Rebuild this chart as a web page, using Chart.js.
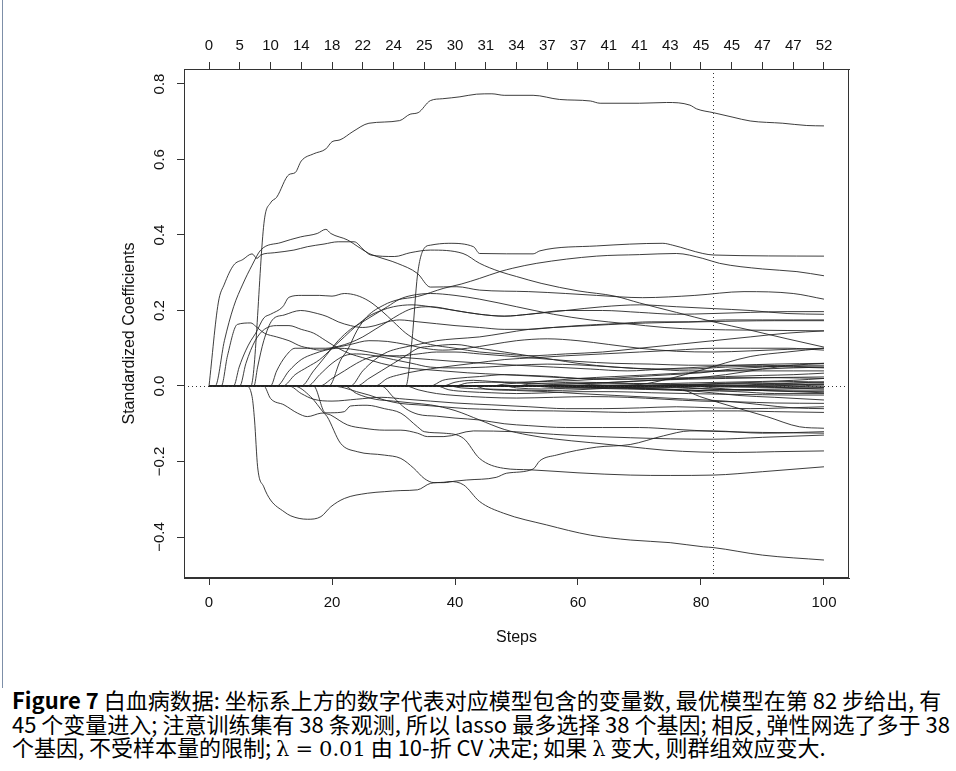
<!DOCTYPE html>
<html><head><meta charset="utf-8">
<script src="https://cdn.jsdelivr.net/npm/chart.js@4.4.0/dist/chart.umd.min.js"></script>
<style>
html,body{margin:0;padding:0;background:#fff;}
#wrap{position:relative;width:956px;height:771px;overflow:hidden;}
#c{position:absolute;left:0;top:0;}
#edge{position:absolute;left:2px;top:0;width:1px;height:688px;background:#7d8fa8;}
#cap{position:absolute;left:12px;top:688px;font-family:"Noto Sans CJK SC",sans-serif;font-size:22px;line-height:23.5px;color:#000;white-space:nowrap;}
#cap b{font-weight:700;}
.m{font-family:"DejaVu Serif","Liberation Serif",serif;font-size:21px;}
.eq{margin:0 6px;}
</style></head>
<body><div id="wrap"><canvas id="c" width="956" height="680"></canvas><div id="edge"></div>
<div id="cap"><b>Figure 7</b> 白血病数据: 坐标系上方的数字代表对应模型包含的变量数, 最优模型在第 82 步给出, 有<br>45 个变量进入; 注意训练集有 38 条观测, 所以 lasso 最多选择 38 个基因; 相反, 弹性网选了多于 38<br>个基因, 不受样本量的限制; <span class="m">λ<span class="eq">=</span>0.01</span> 由 10-折 CV 决定; 如果 <span class="m">λ</span> 变大, 则群组效应变大.</div>
</div>
<script>
// ---- data ----
const xTicks = [0,20,40,60,80,100];
const topTicks = [0,5,10,15,20,25,30,35,40,45,50,55,60,65,70,75,80,85,90,95,100];
const topLabels = ['0','5','10','14','18','22','24','25','30','31','34','37','37','41','41','43','45','45','47','47','52'];
const yTicks = [-0.4,-0.2,0,0.2,0.4,0.6,0.8];
const bestStep = 82;
const xTitle = 'Steps';
const yTitle = 'Standardized Coefficients';

const c01=[[0,0],[6.8,0],[9,0.44],[10,0.485],[11,0.5],[13,0.56],[14,0.565],[15,0.596],[17,0.615],[19,0.628],[20,0.647],[21.3,0.652],[23.4,0.674],[26,0.696],[31,0.703],[32.7,0.72],[34,0.724],[36,0.756],[38,0.761],[40.8,0.766],[43.5,0.773],[46,0.774],[48,0.77],[52.7,0.77],[57,0.759],[62,0.755],[63.6,0.749],[70,0.749],[74.4,0.751],[78.2,0.744],[79.3,0.734],[82,0.724],[85.2,0.712],[88,0.702],[93.3,0.696],[97.2,0.69],[100,0.689]];
const c02=[[0,0],[1.5,0.22],[2.5,0.27],[4,0.32],[5.5,0.335],[7,0.35],[7.8,0.338],[8.4,0.347],[10.6,0.353],[13.8,0.36],[16,0.369],[18.7,0.376],[21,0.382],[23.6,0.382],[25.2,0.36],[26.3,0.347],[30.2,0.343],[32.7,0.353],[36,0.36],[41.3,0.351],[44,0.325],[47.3,0.303],[50,0.29],[54,0.272],[60,0.252],[66,0.238],[70,0.22],[76,0.195],[82,0.17],[88,0.148],[94,0.125],[100,0.103]];
const c03=[[0,0],[1,0],[2.5,0.12],[4,0.21],[5.5,0.27],[7,0.32],[8.4,0.36],[11.7,0.38],[14.9,0.395],[17.6,0.404],[19,0.415],[19.8,0.404],[22.5,0.387],[24.6,0.365],[26,0.351],[27.3,0.343],[30.6,0.325],[33.9,0.298],[36,0.262],[40.3,0.263],[44,0.254],[52,0.25],[58,0.245],[63,0.24],[70.5,0.234],[79,0.24],[87,0.25],[95,0.245],[100,0.23]];
const c04=[[0,0],[2,0],[3,0.08],[4.6,0.163],[6.8,0.167],[7.6,0.158],[9,0.14],[11,0.13],[13,0.12],[15,0.105],[17,0.1],[19,0.1],[21,0.105],[23,0.115],[25,0.13],[27,0.15],[29,0.17],[31,0.19],[33,0.205],[36,0.21],[40,0.2],[44,0.19],[48,0.185],[52,0.19],[58,0.2],[64,0.2],[70,0.195],[76,0.19],[82,0.192],[88,0.195],[94,0.197],[100,0.197]];
const c05=[[0,0],[4,0],[4.9,0.05],[6,0.095],[6.8,0.12],[7.6,0.14],[8.9,0.18],[10,0.19],[12,0.21],[13,0.235],[15,0.24],[18,0.24],[20,0.238],[22,0.245],[24,0.24],[26,0.225],[28,0.2],[30,0.17],[32,0.14],[34,0.12],[36,0.11],[40,0.1],[44,0.09],[48,0.085],[52,0.08],[58,0.085],[64,0.09],[70,0.1],[76,0.11],[82,0.12],[88,0.13],[94,0.14],[100,0.146]];
const c06=[[0,0],[5,0],[6,0.06],[7.5,0.12],[9,0.15],[11,0.16],[13,0.16],[15,0.15],[17,0.14],[19,0.12],[21,0.1],[23,0.085],[25,0.075],[28,0.06],[31,0.05],[34,0.045],[38,0.04],[42,0.035],[48,0.03],[54,0.025],[60,0.02],[68,0.018],[76,0.02],[84,0.022],[92,0.022],[100,0.02]];
const c07=[[0,0],[6,0],[7,-0.028],[7.4,-0.09],[7.9,-0.214],[8.9,-0.267],[10,-0.302],[12.2,-0.333],[13.3,-0.344],[16,-0.353],[18.2,-0.346],[19.8,-0.32],[22,-0.298],[25.8,-0.284],[28.5,-0.28],[31.2,-0.277],[33.9,-0.275],[36,-0.258],[38.2,-0.255],[39.2,-0.253],[41.4,-0.262],[44,-0.306],[47.9,-0.337],[54.9,-0.368],[62,-0.395],[68.5,-0.408],[75,-0.415],[80.4,-0.426],[82,-0.428],[90,-0.448],[100,-0.461]];
const c08=[[0,0],[7.3,0],[7.9,0.05],[8.9,0.12],[10.3,0.175],[12.2,0.188],[14.9,0.2],[17.6,0.192],[19.2,0.184],[21,0.17],[23,0.16],[25,0.155],[27,0.16],[29,0.17],[31,0.175],[34,0.17],[37,0.165],[40,0.16],[44,0.155],[48,0.15],[52,0.15],[56,0.155],[62,0.16],[68,0.165],[74,0.168],[80,0.17],[86,0.172],[92,0.173],[100,0.173]];
const c09=[[0,0],[8.9,0],[10,-0.033],[12.2,-0.05],[14.4,-0.072],[16,-0.081],[18.2,-0.072],[19.8,-0.071],[22,-0.068],[23,-0.053],[25.7,-0.051],[28.5,-0.06],[31.2,-0.072],[33.9,-0.108],[35,-0.121],[38.2,-0.125],[41.4,-0.139],[44,-0.192],[47.9,-0.218],[52.2,-0.222],[60,-0.23],[68.5,-0.236],[75,-0.237],[82,-0.236],[90,-0.227],[100,-0.214]];
const c10=[[0,0],[10,0],[11,0.04],[12.5,0.08],[14,0.1],[16,0.1],[18,0.095],[20,0.1],[23,0.11],[26,0.12],[29,0.118],[32,0.11],[35,0.1],[38,0.095],[42,0.1],[46,0.11],[50,0.12],[55,0.125],[60,0.12],[65,0.11],[70,0.1],[76,0.092],[82,0.09],[88,0.093],[94,0.097],[100,0.1]];
const c11=[[0,0],[11,0],[13,0.04],[15,0.07],[17,0.085],[19,0.095],[21,0.1],[23,0.098],[26,0.09],[29,0.08],[32,0.075],[36,0.07],[40,0.065],[45,0.06],[50,0.055],[56,0.05],[62,0.045],[68,0.04],[74,0.045],[80,0.05],[86,0.055],[92,0.058],[100,0.06]];
const c12=[[0,0],[12,0],[14,0.03],[16,0.05],[18,0.07],[20,0.1],[22,0.13],[24,0.16],[26,0.185],[28,0.2],[30,0.21],[33,0.215],[36,0.21],[40,0.2],[44,0.19],[48,0.185],[52,0.19],[58,0.2],[64,0.21],[70,0.215],[76,0.21],[82,0.205],[88,0.2],[94,0.192],[100,0.19]];
const c13=[[0,0],[13,0],[15,-0.02],[17,-0.035],[20,-0.04],[24,-0.035],[28,-0.03],[32,-0.035],[36,-0.04],[40,-0.045],[46,-0.05],[52,-0.055],[58,-0.06],[64,-0.06],[70,-0.058],[76,-0.055],[82,-0.058],[88,-0.06],[94,-0.058],[100,-0.055]];
const c14=[[0,0],[13.8,0],[16.5,-0.028],[18.7,-0.072],[19.2,-0.081],[21.4,-0.152],[24.1,-0.174],[28.5,-0.183],[31.2,-0.192],[33.3,-0.218],[35,-0.245],[36.6,-0.256],[38.2,-0.256],[40,-0.252],[41.9,-0.249],[46.7,-0.242],[48.4,-0.231],[52.7,-0.22],[53.8,-0.198],[56.5,-0.183],[63,-0.162],[68.5,-0.155],[73.9,-0.132],[78.2,-0.119],[82,-0.119],[90,-0.125],[100,-0.121]];
const c15=[[0,0],[15,0],[17,0.04],[19,0.08],[21,0.12],[23,0.15],[25,0.17],[27,0.19],[29,0.21],[31,0.23],[33,0.24],[36,0.245],[40,0.24],[44,0.23],[50,0.21],[56,0.19],[62,0.175],[68,0.165],[74,0.155],[80,0.15],[88,0.148],[94,0.147],[100,0.146]];
const c16=[[0,0],[16,0],[18,0.03],[20,0.06],[22,0.08],[24,0.085],[27,0.08],[30,0.07],[33,0.06],[36,0.05],[40,0.048],[45,0.05],[50,0.055],[55,0.058],[60,0.056],[66,0.05],[72,0.045],[78,0.045],[84,0.05],[90,0.052],[95,0.05],[100,0.048]];
const c17=[[0,0],[17,0],[18.7,-0.068],[19.8,-0.077],[22.5,-0.103],[25.2,-0.112],[28.5,-0.117],[31.2,-0.117],[33.9,-0.125],[35.5,-0.134],[38.2,-0.134],[43,-0.119],[49.5,-0.121],[56,-0.128],[63,-0.134],[68.5,-0.137],[75,-0.14],[82,-0.141],[90,-0.136],[100,-0.13]];
const c18=[[0,0],[19.5,0],[21.4,0.069],[22.5,0.095],[24.1,0.148],[25.7,0.184],[28.5,0.215],[30.6,0.228],[33.9,0.237],[38.2,0.259],[41,0.27],[44,0.285],[47.3,0.303],[49.4,0.312],[53.3,0.325],[63,0.344],[70,0.348],[76,0.351],[80.3,0.338],[83,0.325],[90,0.31],[95.6,0.303],[100,0.292]];
const c19=[[0,0],[18,0],[20,0.02],[22,0.04],[24,0.06],[26,0.075],[28,0.08],[31,0.08],[34,0.085],[37,0.09],[40,0.09],[44,0.085],[48,0.08],[52,0.075],[56,0.07],[60,0.065],[66,0.06],[72,0.058],[78,0.055],[84,0.055],[90,0.055],[95,0.052],[100,0.05]];
const c20=[[0,0],[20,0],[22,-0.005],[24,-0.015],[26,-0.024],[28.5,-0.037],[31,-0.046],[34,-0.05],[38,-0.055],[42,-0.06],[46,-0.062],[50,-0.065],[56,-0.066],[62,-0.068],[68,-0.07],[74,-0.068],[80,-0.066],[86,-0.066],[92,-0.068],[100,-0.07]];
const c21=[[0,0],[22,0],[24,-0.02],[27,-0.035],[30,-0.04],[33,-0.045],[36,-0.05],[40,-0.065],[44,-0.09],[48,-0.115],[52,-0.13],[56,-0.14],[62,-0.15],[68,-0.16],[74,-0.17],[80,-0.175],[86,-0.176],[92,-0.174],[100,-0.172]];
const c22=[[0,0],[23,0],[25,0.04],[27,0.07],[29,0.09],[31,0.1],[34,0.11],[37,0.12],[40,0.125],[44,0.13],[48,0.14],[52,0.15],[56,0.155],[60,0.16],[66,0.165],[72,0.17],[78,0.17],[84,0.175],[90,0.175],[95,0.175],[100,0.175]];
const c23=[[0,0],[24,0],[26,0.02],[28,0.04],[30,0.06],[32,0.08],[34,0.1],[36,0.105],[40,0.11],[44,0.1],[48,0.09],[52,0.08],[56,0.07],[60,0.06],[66,0.05],[72,0.045],[78,0.04],[84,0.04],[90,0.04],[95,0.04],[100,0.04]];
const c24=[[0,0],[32,0],[33,0.12],[33.9,0.294],[35,0.365],[36,0.373],[39,0.378],[43,0.369],[44,0.351],[52.7,0.35],[53.8,0.358],[63,0.371],[73.8,0.378],[75.4,0.373],[80.3,0.351],[82,0.347],[100,0.344]];
const c25=[[0,0],[27,0],[29,0.02],[31,0.03],[34,0.04],[38,0.05],[43,0.06],[48,0.07],[53,0.075],[58,0.08],[64,0.085],[70,0.09],[76,0.095],[82,0.1],[88,0.1],[94,0.1],[100,0.095]];
const c26=[[0,0],[28,0],[30,-0.03],[32,-0.06],[34,-0.075],[37,-0.08],[40,-0.085],[44,-0.09],[48,-0.1],[52,-0.105],[58,-0.11],[64,-0.11],[70,-0.11],[76,-0.115],[82,-0.12],[90,-0.123],[100,-0.125]];
const c27=[[0,0],[32,0],[34,-0.01],[37,-0.02],[40,-0.025],[45,-0.03],[50,-0.032],[56,-0.03],[62,-0.028],[68,-0.03],[74,-0.035],[80,-0.04],[86,-0.042],[92,-0.045],[100,-0.046]];
const c28=[[0,0],[36,0],[38,0.015],[40,0.02],[44,0.025],[48,0.03],[52,0.028],[56,0.025],[60,0.02],[66,0.018],[72,0.02],[78,0.022],[84,0.025],[90,0.028],[95,0.03],[100,0.034]];
const c29=[[0,0],[37,0],[39,-0.01],[42,-0.015],[46,-0.018],[50,-0.02],[55,-0.018],[60,-0.015],[66,-0.015],[72,-0.018],[78,-0.02],[84,-0.022],[90,-0.023],[95,-0.024],[100,-0.024]];
const c30=[[0,0],[38,0],[40,0.01],[43,0.015],[46,0.012],[50,0.01],[55,0.012],[60,0.015],[65,0.02],[70,0.025],[75,0.03],[80,0.035],[85,0.045],[90,0.05],[95,0.055],[100,0.055]];
const c31=[[0,0],[39,0],[41,-0.005],[45,-0.008],[50,-0.01],[55,-0.012],[60,-0.01],[66,-0.005],[72,-0.003],[78,-0.006],[84,-0.01],[90,-0.012],[95,-0.014],[100,-0.015]];
const c32=[[0,0],[40,0],[42,0.008],[46,0.01],[50,0.008],[55,0.005],[60,0.006],[66,0.01],[72,0.015],[78,0.018],[84,0.02],[90,0.022],[95,0.023],[100,0.024]];
const c33=[[0,0],[43,0],[45,-0.008],[50,-0.012],[55,-0.015],[60,-0.02],[66,-0.025],[72,-0.03],[78,-0.035],[84,-0.04],[90,-0.05],[95,-0.058],[100,-0.06]];
const c34=[[0,0],[46,0],[48,0.005],[52,0.01],[56,0.015],[60,0.02],[66,0.025],[72,0.03],[78,0.035],[84,0.04],[90,0.045],[95,0.048],[100,0.05]];
const c35=[[0,0],[48,0],[50,-0.005],[54,-0.008],[58,-0.006],[62,-0.004],[68,-0.006],[74,-0.01],[80,-0.015],[86,-0.025],[92,-0.03],[100,-0.037]];
const c36=[[0,0],[50,0],[52,0.005],[56,0.008],[60,0.01],[66,0.008],[72,0.006],[78,0.008],[84,0.01],[90,0.012],[95,0.015],[100,0.02]];
const c37=[[0,0],[52,0],[56,-0.004],[62,-0.006],[68,-0.008],[74,-0.01],[77,-0.011],[79.8,-0.028],[85.2,-0.055],[90.7,-0.081],[96,-0.108],[100,-0.112]];
const c38=[[0,0],[53,0],[56,0.004],[60,0.006],[66,0.01],[72,0.015],[78,0.02],[84,0.03],[90,0.045],[95,0.055],[100,0.06]];
const c39=[[0,0],[55,0],[58,-0.003],[62,-0.005],[68,-0.004],[74,-0.003],[80,-0.002],[86,-0.003],[92,-0.004],[100,-0.002]];
const c40=[[0,0],[58,0],[62,0.004],[66,0.006],[72,0.005],[78,0.004],[84,0.005],[90,0.006],[95,0.008],[100,0.011]];
const c41=[[0,0],[60,0],[63,-0.004],[68,-0.006],[74,-0.008],[80,-0.012],[86,-0.015],[92,-0.02],[100,-0.02]];
const c42=[[0,0],[62,0],[66,0.002],[70,0.004],[75,0.02],[80,0.042],[88,0.078],[94,0.09],[100,0.1]];
const c43=[[0,0],[64,0],[68,-0.004],[74,-0.008],[80,-0.012],[86,-0.01],[92,-0.008],[100,-0.005]];
const c44=[[0,0],[70,0],[74,0.003],[80,0.005],[86,0.006],[92,0.004],[100,0.003]];
const c45=[[0,0],[73,0],[77,-0.004],[82,-0.008],[88,-0.01],[94,-0.011],[100,-0.011]];
const c46=[[0,0],[77,0],[80,0.004],[85,0.008],[90,0.01],[95,0.012],[100,0.01]];
const c47=[[0,0],[79,0],[82,-0.005],[86,-0.01],[90,-0.012],[95,-0.015],[100,-0.018]];
const c48=[[0,0],[86,0],[89,0.004],[93,0.006],[97,0.008],[100,0.008]];
const c49=[[0,0],[89,0],[92,-0.003],[96,-0.006],[100,-0.008]];
const c50=[[0,0],[92,0],[95,0.003],[100,0.005]];
const c51=[[0,0],[94,0],[97,-0.002],[100,-0.004]];
const c52=[[0,0],[96,0],[98,0.002],[100,0.003]];
const paths=[c01,c02,c03,c04,c05,c06,c07,c08,c09,c10,c11,c12,c13,c14,c15,c16,c17,c18,c19,c20,c21,c22,c23,c24,c25,c26,c27,c28,c29,c30,c31,c32,c33,c34,c35,c36,c37,c38,c39,c40,c41,c42,c43,c44,c45,c46,c47,c48,c49,c50,c51,c52];

// ---- chart ----
const FAM = '"Liberation Sans", Arial, sans-serif';
const FONT = '15px ' + FAM;
const TFONT = '16px ' + FAM;
const AX = '#333';
const H = 680;
function fmtY(v){ const s=Math.abs(v).toFixed(1); return (v<-1e-9?'\u2212':'')+s; }

const framePlugin = {
  id:'frame',
  afterDraw(chart){
    const {ctx, chartArea:a, scales} = chart;
    ctx.save();
    ctx.strokeStyle=AX; ctx.lineWidth=1;
    ctx.strokeRect(Math.round(a.left)+0.5, Math.round(a.top)+0.5, Math.round(a.right-a.left)-1, Math.round(a.bottom-a.top)-1);
    ctx.setLineDash([1,3]);
    const y0=Math.round(scales.y.getPixelForValue(0))+0.5;
    ctx.beginPath(); ctx.moveTo(a.left,y0); ctx.lineTo(a.right,y0); ctx.stroke();
    const xb=Math.round(scales.x.getPixelForValue(bestStep))+0.5;
    ctx.beginPath(); ctx.moveTo(xb,a.top); ctx.lineTo(xb,a.bottom); ctx.stroke();
    ctx.setLineDash([]);
    ctx.fillStyle='#111'; ctx.font=FONT; ctx.textAlign='center'; ctx.textBaseline='middle';
    yTicks.forEach(v=>{
      const py=scales.y.getPixelForValue(v);
      ctx.save(); ctx.translate(a.left-24,py); ctx.rotate(-Math.PI/2); ctx.fillText(fmtY(v),0,0); ctx.restore();
    });
    ctx.font=TFONT;
    ctx.save(); ctx.translate(a.left-54,(a.top+a.bottom)/2+10); ctx.rotate(-Math.PI/2); ctx.fillText(yTitle,0,0); ctx.restore();
    ctx.fillText(xTitle,(a.left+a.right)/2,a.bottom+60);
    ctx.restore();
  }
};

const datasets = paths.map(p=>({
  data:p.map(([x,y])=>({x,y})),
  borderColor:'rgba(35,35,35,0.88)', borderWidth:1, pointRadius:0, fill:false,
  cubicInterpolationMode:'monotone', tension:0.4
}));

const gridCfg = {drawOnChartArea:false, drawTicks:true, tickLength:7, color:AX, lineWidth:1};
new Chart(document.getElementById('c'), {
  type:'line',
  data:{datasets},
  options:{
    responsive:false, animation:false, devicePixelRatio:1,
    layout:{padding:{left:0,right:107,top:0,bottom:0}},
    plugins:{legend:{display:false}, tooltip:{enabled:false}},
    scales:{
      x:{type:'linear', position:'bottom', min:-4.07, max:104.07,
        afterBuildTicks:s=>{s.ticks=xTicks.map(v=>({value:v}));},
        afterFit:s=>{s.height=H-578;},
        grid:gridCfg, border:{display:true,color:AX},
        ticks:{font:{family:FAM,size:15}, color:'#111', padding:9, maxRotation:0, autoSkip:false,
          callback:v=>String(v)}},
      xt:{type:'linear', position:'top', min:-4.07, max:104.07,
        afterBuildTicks:s=>{s.ticks=topTicks.map(v=>({value:v}));},
        afterFit:s=>{s.height=69;},
        grid:gridCfg, border:{display:true,color:AX},
        ticks:{font:{family:FAM,size:15}, color:'#111', padding:7, maxRotation:0, autoSkip:false,
          callback:(v,i)=>topLabels[i]}},
      y:{type:'linear', position:'left', min:-0.5086, max:0.8397,
        afterBuildTicks:s=>{s.ticks=yTicks.map(v=>({value:v}));},
        afterFit:s=>{s.width=184;},
        grid:gridCfg, border:{display:true,color:AX},
        ticks:{color:'rgba(0,0,0,0)', font:{size:15}}}
    }
  },
  plugins:[framePlugin]
});
</script></body></html>
